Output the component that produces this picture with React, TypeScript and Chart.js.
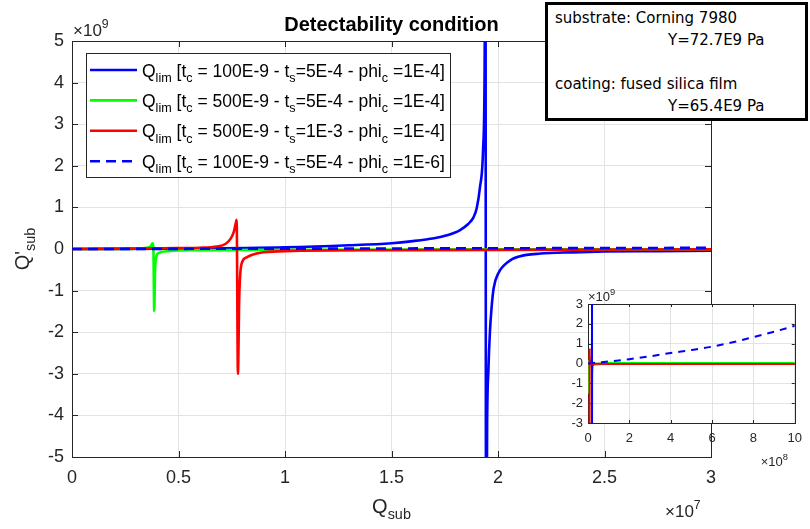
import React, { useEffect, useRef } from 'react';
import { Chart, registerables } from 'chart.js';
Chart.register(...registerables);

// ---------- DATA (main axes: x in units of 1e7, y in units of 1e9) ----------
const blueX = [0, 0.5, 1.0, 1.3, 1.5, 1.6, 1.7, 1.76, 1.82, 1.86, 1.885, 1.9, 1.915, 1.93, 1.937, 1.941, 1.944, 1.949, 1.955, 1.962, 1.97, 1.98, 2.0, 2.05, 2.1, 2.2, 2.35, 2.5, 2.75, 3.0];
const blueY = [0, 0.01, 0.04, 0.09, 0.14, 0.19, 0.26, 0.33, 0.45, 0.6, 0.76, 0.98, 1.47, 2.4, 4.2, 9, -9, -4.2, -2.9, -2.0, -1.4, -0.93, -0.6, -0.3, -0.18, -0.11, -0.08, -0.06, -0.05, -0.04];

const greenX = [0, 0.2, 0.3, 0.35, 0.37, 0.378, 0.382, 0.386, 0.39, 0.395, 0.405, 0.45, 0.6, 1.0, 2.0, 3.0];
const greenY = [0, 0.0, 0.01, 0.03, 0.07, 0.14, 0.05, -1.49, -0.5, -0.2, -0.1, -0.05, -0.03, -0.02, -0.01, -0.01];

const redX = [0, 0.3, 0.5, 0.6, 0.68, 0.72, 0.745, 0.76, 0.768, 0.773, 0.779, 0.785, 0.79, 0.8, 0.82, 0.85, 0.9, 1.0, 1.5, 2.0, 3.0];
const redY = [0, 0.01, 0.02, 0.03, 0.06, 0.12, 0.25, 0.42, 0.6, 0.7, -3.0, -1.2, -0.6, -0.3, -0.2, -0.13, -0.08, -0.05, -0.03, -0.02, -0.01];

const dashX = [0, 1, 2, 3];
const dashY = [0, 0.008, 0.018, 0.028];

// ---------- inset (x in units of 1e8, y in units of 1e9) ----------
const tailX = [1, 4, 7, 10];
const blueTailY = [-0.03, -0.02, -0.01, -0.01];
const greenTailY = [0.02, 0.02, 0.02, 0.02];
const redTailY = [-0.02, -0.02, -0.02, -0.02];
const insetDashX = [0, 0.5, 1, 2, 3, 4, 5, 6, 7, 8, 9, 10];
const insetDashY = [0, 0.05, 0.1, 0.22, 0.36, 0.53, 0.68, 0.85, 1.07, 1.33, 1.6, 1.9];

const seriesLabels = [
  'Q_{lim} [t_c = 100E-9 - t_s=5E-4 - phi_c =1E-4]',
  'Q_{lim} [t_c = 500E-9 - t_s=5E-4 - phi_c =1E-4]',
  'Q_{lim} [t_c = 500E-9 - t_s=1E-3 - phi_c =1E-4]',
  'Q_{lim} [t_c = 100E-9 - t_s=5E-4 - phi_c =1E-6]',
];
const seriesColors = ['#0000ff', '#00ff00', '#ff0000', '#0000ff'];

const mainXTicks = [0, 0.5, 1, 1.5, 2, 2.5, 3];
const mainYTicks = [-5, -4, -3, -2, -1, 0, 1, 2, 3, 4, 5];
const insetXTicks = [0, 2, 4, 6, 8, 10];
const insetYTicks = [-3, -2, -1, 0, 1, 2, 3];

const titleText = 'Detectability condition';
const xLabel = 'Q_{sub}';
const yLabel = "Q'_{sub}";
const annotationLines = ['substrate: Corning 7980', 'Y=72.7E9 Pa', '', 'coating: fused silica film', 'Y=65.4E9 Pa'];

const FONT = "'Liberation Sans', Arial, Helvetica, sans-serif";
const AX = '#262626';
const GRID = '#e3e3e3';

const pts = (xs: number[], ys: number[], k = 1) => xs.map((x, i) => ({ x: x * k, y: ys[i] }));

type Seg = { t: string; mode: number };
function parseTex(s: string): Seg[] {
  const out: Seg[] = [];
  let i = 0;
  let buf = '';
  while (i < s.length) {
    const ch = s[i];
    if ((ch === '_' || ch === '^') && i + 1 < s.length) {
      if (buf) { out.push({ t: buf, mode: 0 }); buf = ''; }
      const mode = ch === '_' ? 1 : -1;
      let content = '';
      if (s[i + 1] === '{') {
        const j = s.indexOf('}', i + 2);
        content = s.slice(i + 2, j);
        i = j + 1;
      } else {
        content = s[i + 1];
        i += 2;
      }
      out.push({ t: content, mode });
    } else {
      buf += ch;
      i++;
    }
  }
  if (buf) out.push({ t: buf, mode: 0 });
  return out;
}

function drawTex(ctx: CanvasRenderingContext2D, tex: string, x: number, y: number, size: number, align = 'left', color = '#000', weight = 'normal') {
  const segs = parseTex(tex);
  const fontFor = (m: number) => `${weight} ${m ? size * 0.72 : size}px ${FONT}`;
  let w = 0;
  for (const s of segs) { ctx.font = fontFor(s.mode); w += ctx.measureText(s.t).width; }
  let cx = align === 'center' ? x - w / 2 : align === 'right' ? x - w : x;
  ctx.fillStyle = color;
  ctx.textAlign = 'left';
  ctx.textBaseline = 'alphabetic';
  for (const s of segs) {
    ctx.font = fontFor(s.mode);
    const dy = s.mode === 1 ? size * 0.3 : s.mode === -1 ? -size * 0.45 : 0;
    ctx.fillText(s.t, cx, y + dy);
    cx += ctx.measureText(s.t).width;
  }
}

function boxAndTicks(tickLen: number) {
  return {
    id: 'boxTicks',
    beforeDatasetsDraw(chart: any) {
      const { ctx, chartArea: a, scales } = chart;
      ctx.save();
      ctx.strokeStyle = AX;
      ctx.lineWidth = 1;
      ctx.beginPath();
      for (const t of scales.x.ticks) {
        const px = Math.round(scales.x.getPixelForValue(t.value)) + 0.5;
        ctx.moveTo(px, a.bottom); ctx.lineTo(px, a.bottom - tickLen);
        ctx.moveTo(px, a.top); ctx.lineTo(px, a.top + tickLen);
      }
      for (const t of scales.y.ticks) {
        const py = Math.round(scales.y.getPixelForValue(t.value)) + 0.5;
        ctx.moveTo(a.left, py); ctx.lineTo(a.left + tickLen, py);
        ctx.moveTo(a.right, py); ctx.lineTo(a.right - tickLen, py);
      }
      ctx.stroke();
      ctx.strokeRect(Math.round(a.left) + 0.5, Math.round(a.top) + 0.5, Math.round(a.right - a.left), Math.round(a.bottom - a.top));
      ctx.restore();
    },
  };
}

function scaleOpts(min: number, max: number, tickVals: number[], size: number, pad: number, fit: (s: any) => void) {
  return {
    type: 'linear',
    min,
    max,
    afterBuildTicks: (s: any) => { s.ticks = tickVals.map((v) => ({ value: v })); },
    ticks: { font: { family: FONT, size }, color: AX, padding: pad, maxRotation: 0, autoSkip: false, callback: (v: any) => String(v) },
    grid: { color: GRID, drawTicks: false, lineWidth: 1 },
    border: { display: false },
    afterFit: fit,
  };
}

export default function App() {
  const mainRef = useRef<HTMLCanvasElement>(null);
  const insetRef = useRef<HTMLCanvasElement>(null);

  useEffect(() => {
    document.body.style.margin = '0';
    const mk = (i: number, data: any[], extra: any = {}) => ({
      data,
      borderColor: seriesColors[i],
      borderWidth: 2.6,
      pointRadius: 0,
      fill: false,
      cubicInterpolationMode: 'monotone',
      order: 4 - i,
      label: seriesLabels[i],
      ...extra,
    });

    const mainPlugin = {
      id: 'mainText',
      afterDraw(chart: any) {
        const { ctx, chartArea: a } = chart;
        const cxm = (a.left + a.right) / 2;
        ctx.save();
        drawTex(ctx, titleText, cxm, a.top - 10, 20, 'center', '#000', 'bold');
        drawTex(ctx, '\u00d710^{9}', a.left + 1, a.top - 5, 17, 'left', AX);
        drawTex(ctx, '\u00d710^{7}', a.right - 46, 517, 17, 'left', AX);
        drawTex(ctx, xLabel, cxm, 513, 20, 'center', AX);
        ctx.save();
        ctx.translate(22, (a.top + a.bottom) / 2);
        ctx.rotate(-Math.PI / 2);
        drawTex(ctx, yLabel, 0, 7, 20, 'center', AX);
        ctx.restore();
        // legend
        const lx = 86, ly = 53, lw = 364, lh = 124;
        ctx.fillStyle = '#fff';
        ctx.fillRect(lx, ly, lw, lh);
        ctx.strokeStyle = AX;
        ctx.lineWidth = 1;
        ctx.strokeRect(lx + 0.5, ly + 0.5, lw, lh);
        chart.data.datasets.forEach((ds: any, i: number) => {
          const ry = ly + 17 + i * 30.4;
          ctx.save();
          ctx.strokeStyle = ds.borderColor;
          ctx.lineWidth = ds.borderWidth;
          ctx.setLineDash(ds.borderDash || []);
          ctx.beginPath();
          ctx.moveTo(lx + 4, ry);
          ctx.lineTo(lx + 51, ry);
          ctx.stroke();
          ctx.restore();
          drawTex(ctx, ds.label, lx + 56, ry + 6.5, 17.5, 'left', '#000');
        });
        ctx.restore();
      },
    };

    const main = new Chart(mainRef.current as HTMLCanvasElement, {
      type: 'line',
      data: {
        datasets: [
          mk(0, pts(blueX, blueY)),
          mk(1, pts(greenX, greenY)),
          mk(2, pts(redX, redY)),
          mk(3, pts(dashX, dashY), { borderDash: [10, 6] }),
        ],
      },
      options: {
        animation: false,
        responsive: false,
        maintainAspectRatio: false,
        parsing: false,
        layout: { padding: { left: 0, top: 41, right: 99, bottom: 0 } },
        plugins: { legend: { display: false }, tooltip: { enabled: false }, title: { display: false } },
        scales: {
          x: scaleOpts(0, 3, mainXTicks, 18, 10, (s: any) => { s.height = 72; }),
          y: scaleOpts(-5, 5, mainYTicks, 18, 8, (s: any) => { s.width = 72; }),
        },
      } as any,
      plugins: [boxAndTicks(6), mainPlugin],
    } as any);

    const insetPlugin = {
      id: 'insetText',
      beforeDraw(chart: any) {
        const { ctx, chartArea: a } = chart;
        ctx.save();
        ctx.fillStyle = '#fff';
        ctx.fillRect(a.left, a.top, a.right - a.left, a.bottom - a.top);
        ctx.restore();
      },
      afterDraw(chart: any) {
        const { ctx, chartArea: a } = chart;
        ctx.save();
        drawTex(ctx, '\u00d710^{9}', a.left, a.top - 3, 13, 'left', AX);
        drawTex(ctx, '\u00d710^{8}', a.right - 34, a.bottom + 43, 13, 'left', AX);
        ctx.restore();
      },
    };

    const inset = new Chart(insetRef.current as HTMLCanvasElement, {
      type: 'line',
      data: {
        datasets: [
          mk(0, [...pts(blueX, blueY, 0.1), ...pts(tailX, blueTailY)], { borderWidth: 2 }),
          mk(1, [...pts(greenX, greenY, 0.1), ...pts(tailX, greenTailY)], { borderWidth: 2 }),
          mk(2, [...pts(redX, redY, 0.1), ...pts(tailX, redTailY)], { borderWidth: 2 }),
          mk(3, pts(insetDashX, insetDashY), { borderDash: [7, 6], borderWidth: 2 }),
        ],
      },
      options: {
        animation: false,
        responsive: false,
        maintainAspectRatio: false,
        parsing: false,
        layout: { padding: { left: 0, top: 19, right: 14, bottom: 0 } },
        plugins: { legend: { display: false }, tooltip: { enabled: false } },
        scales: {
          x: scaleOpts(0, 10, insetXTicks, 13, 8, (s: any) => { s.height = 62; }),
          y: scaleOpts(-3, 3, insetYTicks, 13, 5, (s: any) => { s.width = 48; }),
        },
      } as any,
      plugins: [insetPlugin, boxAndTicks(3)],
    } as any);

    return () => {
      main.destroy();
      inset.destroy();
    };
  }, []);

  return (
    <div style={{ position: 'relative', width: 810, height: 529, background: '#fff', overflow: 'hidden' }}>
      <canvas ref={mainRef} width={810} height={529} style={{ position: 'absolute', left: 0, top: 0, width: 810, height: 529 }} />
      <canvas ref={insetRef} width={270} height={200} style={{ position: 'absolute', left: 540, top: 285, width: 270, height: 200 }} />
      <div
        style={{
          position: 'absolute',
          left: 545,
          top: 2,
          width: 263,
          height: 119,
          boxSizing: 'border-box',
          border: '3px solid #000',
          background: '#fff',
          fontFamily: "'DejaVu Sans', Verdana, sans-serif",
          fontSize: 15,
          lineHeight: '22px',
          color: '#000',
          padding: '2px 0 0 7px',
          whiteSpace: 'pre',
        }}
      >
        {annotationLines.map((l, i) => (
          <div key={i} style={{ height: 22, paddingLeft: l.startsWith('Y=') ? 113 : 0 }}>{l}</div>
        ))}
      </div>
    </div>
  );
}
